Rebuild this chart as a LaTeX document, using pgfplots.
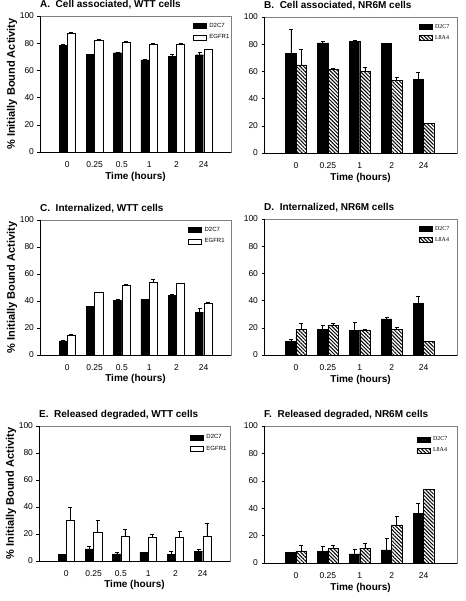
\documentclass[border=0pt]{standalone}
\usepackage{pgfplots}
\pgfplotsset{compat=1.18}
\usepackage{pgfplotstable}
\usetikzlibrary{patterns.meta}
\usepackage{fontspec}
\setmainfont{Liberation Sans}
\newfontfamily\legserif{Liberation Serif}

% x d de e ee  (d = D2C7, e = EGFR1 / L8A4, *e = upper error)
\pgfplotstableread{
x d de e ee
0 78.4 0.5 87.5 0.5
1 71.7 0.5 82.3 0.4
2 73.0 0.4 80.8 0.5
3 67.8 0.4 79.6 0.3
4 70.3 1.8 79.1 1.2
5 71.5 1.8 75.4 0.2
}\tabA
\pgfplotstableread{
x d de e ee
0 73.5 17.7 64.7 11.3
1 80.9 1.2 61.3 1.0
2 81.9 0.9 59.8 2.9
3 80.4 0.3 53.2 2.7
4 53.9 5.7 22.0 0.0
}\tabB
\pgfplotstableread{
x d de e ee
0 10.4 0.2 14.6 0.5
1 36.1 0.3 46.5 0.3
2 40.6 0.8 51.7 0.4
3 41.1 0.3 53.7 2.2
4 44.0 0.8 53.2 0.3
5 31.7 2.7 38.4 0.5
}\tabC
\pgfplotstableread{
x d de e ee
0 10.1 1.7 18.7 4.7
1 18.7 3.0 21.9 1.3
2 18.2 5.7 18.5 0.3
3 26.6 1.0 18.7 1.5
4 37.9 5.2 9.9 0.0
}\tabD
\pgfplotstableread{
x d de e ee
0 5.0 0.0 30.0 9.5
1 9.0 2.0 21.3 9.0
2 5.3 1.2 18.3 5.5
3 6.5 0.3 17.8 2.0
4 5.0 2.0 17.8 4.0
5 7.3 1.5 18.3 9.7
}\tabE
\pgfplotstableread{
x d de e ee
0 7.7 0.3 8.9 4.2
1 8.4 3.7 10.6 2.7
2 6.7 3.7 10.9 3.4
3 9.6 8.4 27.9 6.4
4 36.3 7.2 53.6 0.0
}\tabF

\pgfplotsset{
  eb/.style={error bars/.cd, y dir=plus, y explicit,
    error bar style={black, line width=0.5pt},
    error mark options={rotate=90, mark size=2pt, line width=0.5pt, black}},
  panel/.style={
    scale only axis, width=191pt, height=136pt,
    ybar=0pt, bar width=0.3,
    xmin=-1, xmax=6,
    ymin=0, ymax=100, ytick={0,20,40,60,80,100},
    xtick={0,...,5},
    xticklabels={0,0.25,0.5,1,2,24},
    axis line style={draw=black!50, line width=0.4pt},
    tick align=outside, tick pos=left, major tick length=2.5pt,
    xtick style={draw=none}, ytick style={black, line width=0.5pt},
    tick label style={font=\fontsize{8.5}{10}\selectfont},
    /pgf/number format/assume math mode=true,
    xticklabel style={anchor=base, yshift=-13pt},
    xlabel={Time (hours)},
    xlabel style={font=\bfseries\fontsize{10}{12}\selectfont, at={(axis description cs:0.5,-0.18)}, anchor=center},
    title style={font=\bfseries\fontsize{10}{12}\selectfont, at={(axis description cs:0,1)}, anchor=base west, inner sep=0pt, yshift=2.5pt},
    legend cell align=left,
    legend style={draw=none, fill=none, inner sep=0pt, font=\fontsize{6}{7}\selectfont,
      row sep=3.5pt, column sep=2pt, nodes={inner sep=1pt}, at={(axis description cs:0.80,0.955)}, anchor=north west},
    legend image code/.code={\draw[#1, line width=0.4pt] (0pt,-2.5pt) rectangle (13pt,2.5pt);},
    clip=false,
  },
  wtt/.style={panel,
    ylabel={\% Initially Bound Activity},
    ylabel style={font=\bfseries\fontsize{11}{13}\selectfont, at={(axis description cs:-0.147,0.5)}, anchor=center}},
  nr/.style={panel, width=193pt, xmin=-1, xmax=5.05, bar width=0.32,
    xtick={0,...,4}, xticklabels={0,0.25,1,2,24},
    legend style={font=\legserif\fontsize{6}{7}\selectfont}},
  hatch/.style={draw=black, pattern={Lines[angle=-45,distance=2.6pt,line width=1pt]}},
}
\newcommand{\frameLB}{\draw[black, line width=0.6pt] (rel axis cs:0,1) -- (rel axis cs:0,0) -- (rel axis cs:1,0);}

\begin{document}
\begin{tikzpicture}
\useasboundingbox (0,0) rectangle (465pt,601pt);

% A
\begin{axis}[wtt, at={(40pt,449pt)}, anchor=south west, title={A.\ \ Cell associated, WTT cells}]
\addplot[fill=black, draw=black, eb] table[x=x, y=d, y error plus=de] {\tabA};
\addplot[fill=white, draw=black, eb] table[x=x, y=e, y error plus=ee] {\tabA};
\legend{D2C7, EGFR1}
\frameLB
\end{axis}

% B
\begin{axis}[nr, at={(264pt,448pt)}, anchor=south west, title={B.\ \ Cell associated, NR6M cells}]
\addplot[fill=black, draw=black, eb] table[x=x, y=d, y error plus=de] {\tabB};
\addplot[hatch, eb] table[x=x, y=e, y error plus=ee] {\tabB};
\legend{D2C7, L8A4}
\frameLB
\end{axis}

% C
\begin{axis}[wtt, at={(40pt,246pt)}, anchor=south west, height=135pt, title={C.\ \ Internalized, WTT cells},
  legend style={at={(axis description cs:0.775,0.955)}}]
\addplot[fill=black, draw=black, eb] table[x=x, y=d, y error plus=de] {\tabC};
\addplot[fill=white, draw=black, eb] table[x=x, y=e, y error plus=ee] {\tabC};
\legend{D2C7, EGFR1}
\frameLB
\end{axis}

% D
\begin{axis}[nr, at={(264pt,246pt)}, anchor=south west, title={D.\ \ Internalized, NR6M cells}]
\addplot[fill=black, draw=black, eb] table[x=x, y=d, y error plus=de] {\tabD};
\addplot[hatch, eb] table[x=x, y=e, y error plus=ee] {\tabD};
\legend{D2C7, L8A4}
\frameLB
\end{axis}

% E
\begin{axis}[wtt, at={(39pt,40pt)}, anchor=south west, height=135pt, title={E.\ \ Released degraded, WTT cells},
  legend style={at={(axis description cs:0.79,0.945)}}]
\addplot[fill=black, draw=black, eb] table[x=x, y=d, y error plus=de] {\tabE};
\addplot[fill=white, draw=black, eb] table[x=x, y=e, y error plus=ee] {\tabE};
\legend{D2C7, EGFR1}
\frameLB
\end{axis}

% F
\begin{axis}[nr, at={(264pt,38pt)}, anchor=south west, height=137pt, title={F.\ \ Released degraded, NR6M cells},
  legend style={at={(axis description cs:0.79,0.93)}}]
\addplot[fill=black, draw=black, eb] table[x=x, y=d, y error plus=de] {\tabF};
\addplot[hatch, eb] table[x=x, y=e, y error plus=ee] {\tabF};
\legend{D2C7, L8A4}
\frameLB
\end{axis}
\end{tikzpicture}
\end{document}
